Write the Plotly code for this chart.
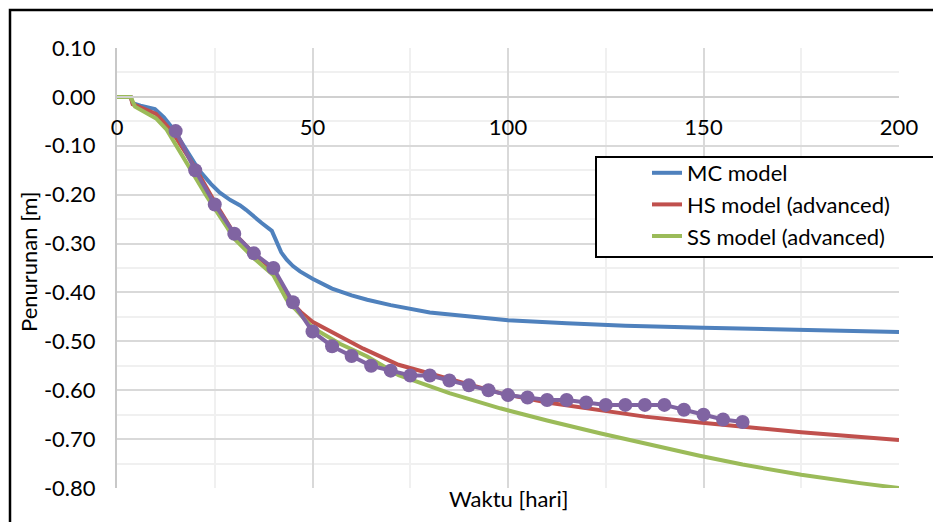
import plotly.graph_objects as go

# Measured settlement (markers)
meas_x = [15, 20, 25, 30, 35, 40, 45, 50, 55, 60, 65, 70, 75, 80, 85, 90, 95, 100,
          105, 110, 115, 120, 125, 130, 135, 140, 145, 150, 155, 160]
meas_y = [-0.07, -0.15, -0.22, -0.28, -0.32, -0.35, -0.42, -0.48, -0.51, -0.53, -0.55, -0.56,
          -0.57, -0.57, -0.58, -0.59, -0.60, -0.61, -0.615, -0.62, -0.62, -0.625, -0.63, -0.63,
          -0.63, -0.63, -0.64, -0.65, -0.66, -0.665]

# MC model
mc_x = [0, 3.5, 4, 6, 9.7, 12, 14.4, 18, 21, 24, 26.3, 29, 31.5, 33, 34.9, 37, 39.6, 40.8,
        42, 43.4, 45, 46.8, 50, 55, 60, 64, 70, 80, 90, 100, 115, 130, 150, 175, 200]
mc_y = [0, 0, -0.013, -0.018, -0.025, -0.042, -0.066, -0.11, -0.15, -0.178, -0.196, -0.211,
        -0.222, -0.231, -0.245, -0.258, -0.274, -0.298, -0.318, -0.333, -0.346, -0.357, -0.372,
        -0.392, -0.406, -0.415, -0.426, -0.441, -0.450, -0.457, -0.463, -0.468, -0.472, -0.477, -0.481]

# HS model (advanced)
hs_x = [0, 3.5, 4, 10, 14, 20, 25, 30, 35, 40, 44, 47, 50, 55, 63, 72, 85, 98, 110, 123,
        135, 149, 160, 175, 200]
hs_y = [0, 0, -0.015, -0.035, -0.07, -0.145, -0.215, -0.28, -0.32, -0.355, -0.415, -0.44,
        -0.46, -0.482, -0.515, -0.548, -0.576, -0.606, -0.625, -0.641, -0.654, -0.666, -0.675,
        -0.686, -0.702]

# SS model (advanced)
ss_x = [0, 3.5, 4.6, 10, 12.7, 17.8, 23, 28, 30, 35, 40, 43.4, 50, 57, 64, 72, 85, 98, 110,
        123.5, 140, 149, 160, 175, 190, 200]
ss_y = [0, 0, -0.02, -0.044, -0.067, -0.136, -0.204, -0.265, -0.29, -0.33, -0.365, -0.415,
        -0.472, -0.505, -0.531, -0.569, -0.606, -0.637, -0.662, -0.688, -0.718, -0.734, -0.752,
        -0.773, -0.79, -0.80]

x_ticks = [0, 50, 100, 150, 200]
y_ticks = [0.10, 0.00, -0.10, -0.20, -0.30, -0.40, -0.50, -0.60, -0.70, -0.80]

FONT = "Lato"
FS = 22
LW = 4

fig = go.Figure()
fig.add_trace(go.Scatter(x=mc_x, y=mc_y, mode="lines", name="MC model", legendgroup="a",
                         line=dict(color="#4F81BD", width=LW)))
fig.add_trace(go.Scatter(x=hs_x, y=hs_y, mode="lines", name="HS model (advanced)", legendgroup="b",
                         line=dict(color="#C0504D", width=LW)))
fig.add_trace(go.Scatter(x=ss_x, y=ss_y, mode="lines", name="SS model (advanced)", legendgroup="c",
                         line=dict(color="#9BBB59", width=LW)))
fig.add_trace(go.Scatter(x=meas_x, y=meas_y, mode="lines+markers", name="Measured", showlegend=False,
                         line=dict(color="#8064A2", width=LW),
                         marker=dict(color="#8064A2", size=14, symbol="circle")))

# page has an 8px body margin; work in figure coordinates
OFF = 8
W, H = 941 - OFF, 522 - OFF
L, T = 117 - OFF, 48 - OFF
R, B = W - (899 - OFF), H - (488 - OFF)
pw, ph = W - L - R, H - T - B


def px(sx):
    return (sx - OFF - L) / pw


def py(sy):
    return (H - B - (sy - OFF)) / ph


fig.update_layout(
    width=W, height=H,
    margin=dict(l=L, r=R, t=T, b=B),
    paper_bgcolor="white", plot_bgcolor="white",
    font=dict(family=FONT, size=FS, color="#000000"),
    showlegend=True,
    legend=dict(x=px(647), y=py(152), xanchor="left", yanchor="top",
                borderwidth=0, bgcolor="rgba(0,0,0,0)",
                font=dict(family=FONT, size=FS), traceorder="grouped", tracegroupgap=0),
    xaxis=dict(range=[0, 200], tickvals=x_ticks, ticktext=[str(v) for v in x_ticks],
               anchor="free", position=0.8 / 0.9, side="bottom",
               showline=True, linecolor="#d0d0d0", linewidth=2,
               showgrid=True, gridcolor="#d9d9d9", gridwidth=2,
               minor=dict(dtick=25, showgrid=True, gridcolor="#f0f0f0", gridwidth=2),
               ticks="", ticklabelstandoff=11, zeroline=False,
               tickfont=dict(family=FONT, size=FS)),
    yaxis=dict(range=[-0.8, 0.1], tickvals=y_ticks, ticktext=["%.2f" % v for v in y_ticks],
               showline=True, linecolor="#c8c8c8", linewidth=2,
               showgrid=True, gridcolor="#d9d9d9", gridwidth=2,
               minor=dict(dtick=0.05, showgrid=True, gridcolor="#f0f0f0", gridwidth=2),
               ticks="", ticklabelstandoff=15, zeroline=False,
               tickfont=dict(family=FONT, size=FS)),
)

fig.add_annotation(text="Waktu [hari]", xref="paper", yref="paper",
                   x=0.5, y=py(498), xanchor="center", yanchor="middle",
                   showarrow=False, font=dict(family=FONT, size=FS))
fig.add_annotation(text="Penurunan [m]", xref="paper", yref="paper",
                   x=px(28), y=py(262), xanchor="center", yanchor="middle",
                   textangle=-90, showarrow=False, font=dict(family=FONT, size=FS))

# legend frame
fig.add_shape(type="rect", xref="paper", yref="paper",
              x0=px(596), x1=px(934), y0=py(257), y1=py(157),
              line=dict(color="#000000", width=2), fillcolor="white", layer="above")

# outer chart border (left and top visible, right/bottom beyond the page)
fig.add_shape(type="rect", xref="paper", yref="paper",
              x0=px(10), x1=px(980), y0=py(560), y1=py(10),
              line=dict(color="#000000", width=2.5), fillcolor="rgba(0,0,0,0)", layer="above")

fig.write_html("out.html")
